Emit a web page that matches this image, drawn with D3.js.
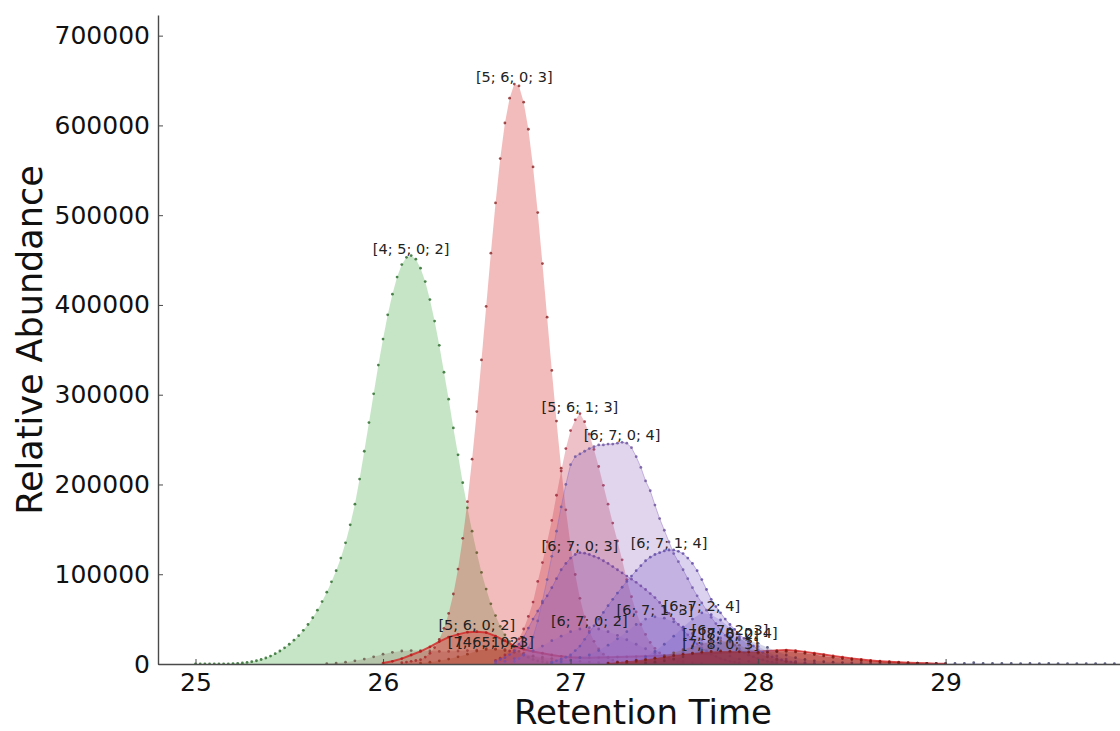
<!DOCTYPE html>
<html>
<head>
<meta charset="utf-8">
<script src="https://cdn.jsdelivr.net/npm/d3@7"></script>
<style>
  html, body { margin: 0; padding: 0; background: #fff; }
  svg { display: block; font-family: "DejaVu Sans", "Liberation Sans", sans-serif; }
</style>
</head>
<body>
<svg id="chart" width="1120" height="731"></svg>
<script>
// ---- Extracted ion chromatograms, one per glycan composition [Hex; HexNAc; Fuc; NeuAc] ----
const compositions = [
  "[4; 5; 0; 2]", "[4; 5; 0; 3]", "[5; 6; 0; 3]", "[7; 6; 1; 2]",
  "[5; 6; 0; 2]", "[5; 6; 1; 3]", "[6; 7; 0; 4]", "[6; 7; 0; 3]",
  "[6; 7; 1; 4]", "[6; 7; 0; 2]", "[6; 7; 1; 3]", "[6; 7; 2; 4]",
  "[7; 8; 0; 2]", "[6; 7; 2; 3]", "[7; 8; 0; 4]", "[7; 8; 0; 3]"
];

// first scan time (min) and scan interval (min) of each trace
const startTimes  = [25.0, 25.7, 26.1, 26.2, 26.0, 26.6, 26.7, 26.6, 26.9, 26.6, 26.9, 27.3, 27.3, 27.4, 27.4, 27.2];
const scanSteps   = [0.025, 0.05, 0.025, 0.05, 0.05, 0.025, 0.025, 0.025, 0.025, 0.05, 0.05, 0.05, 0.05, 0.05, 0.05, 0.05];

const abund_4502 = [0, 0, 0, 0, 0, 0, 0, 0, 500, 800, 1200, 1800, 2600, 3600, 5000, 6700, 8800, 11500, 14500, 18000,
  22000, 26500, 31500, 37500, 44000, 51500, 60000, 69500, 80000, 91500, 104000, 118000, 135000, 155000, 178000, 206000,
  237000, 269000, 301000, 333000, 362000, 389000, 412000, 431000, 445000, 453000, 455000, 451000, 441000, 426000,
  406000, 382000, 355000, 325000, 295000, 263000, 233000, 202000, 174000, 148000, 124000, 102000, 83500, 67000, 54000,
  42000, 32500, 25000, 19000, 14000, 10000, 7500, 5000, 3500, 2500, 1500, 1000];
const abund_4503 = [500, 1000, 2000, 3500, 5500, 8000, 11000, 13000, 14500, 15000, 15000, 14500, 14000, 14000, 14500,
  15000, 15500, 16000, 16500, 16300, 15000, 12000, 8500, 5500, 3000, 1500, 700];
const abund_5603 = [1500, 2200, 3000, 3900, 4800, 7700, 12000, 18300, 27300, 39700, 56300, 78000, 105800, 140000, 180800,
  228200, 281200, 338700, 398400, 457700, 513700, 563000, 602700, 630300, 646000, 644000, 625900, 595700, 553800,
  502900, 446100, 386400, 327100, 270600, 218200, 171700, 132500, 99700, 73200, 52600, 36900, 25300, 16900, 11000,
  7000, 4400, 2700, 1600, 1000];
const abund_7612 = [1000, 2000, 3500, 5500, 8000, 11000, 14500, 17000, 16500, 15000, 13000, 11000, 9000, 7500, 6000,
  4800, 3800, 3000, 2200, 1600, 1100, 700, 400];
const abund_5602 = [1000, 3000, 6000, 10000, 14000, 19000, 25000, 30000, 33000, 35500, 36000, 35000, 31000, 26000, 20000,
  16500, 14000, 12000, 10000, 8500, 7500, 7000, 7000, 7200, 7500, 7800, 8000, 8300, 8700, 9000, 9500, 10000, 10500,
  11000, 11500, 12000, 12500, 13000, 13300, 13600, 14000, 14500, 15000, 15500, 14800, 13500, 12000, 10500, 9000, 7500,
  6000, 5000, 4000, 3200, 2500, 2000, 1500, 1000, 700, 400, 200];
const abund_5613 = [4000, 6500, 10000, 14500, 20000, 28000, 39000, 53000, 69000, 92000, 113000, 136000, 160000, 188000,
  215000, 240000, 260000, 272000, 279000, 270000, 256000, 239000, 220000, 199000, 178000, 157000, 137000, 116000, 94000,
  75000, 58000, 44000, 33000, 24000, 17500, 12500, 9000, 6500, 4500, 3000, 2000];
const abund_6704 = [3000, 6000, 10000, 18000, 30000, 48000, 70000, 94000, 120000, 148000, 175000, 200000, 222000, 231000,
  234000, 237000, 240000, 242000, 244000, 244000, 245000, 245000, 246000, 247000, 246000, 241000, 231000, 219000,
  204000, 193000, 177000, 162000, 149000, 136000, 123000, 114000, 105000, 95000, 85000, 76000, 68000, 60000, 52000,
  45000, 38000, 32000, 26000, 21000, 17000, 13000, 10000, 8000, 6000, 4500, 3000, 2000, 1500];
const abund_6703 = [3000, 5000, 7000, 10500, 15000, 22000, 30000, 40000, 50000, 59000, 68000, 76000, 85000, 95000, 105000,
  112000, 118000, 122000, 124000, 123500, 122000, 120000, 118000, 115000, 112000, 108500, 105000, 101500, 98000, 94500,
  91000, 87000, 83000, 78500, 74000, 68500, 63000, 56500, 50000, 44000, 38000, 32500, 27000, 22500, 18000, 14500,
  11000, 8500, 6000, 4500, 3000, 2200, 1500];
const abund_6714 = [2000, 3500, 5500, 7500, 10000, 15000, 20000, 27500, 35000, 42500, 50000, 57500, 65000, 72000, 79000,
  85500, 92000, 98000, 104000, 109500, 115000, 119000, 122000, 124000, 126000, 127000, 127000, 125500, 123000, 118000,
  112000, 104000, 94000, 83000, 72000, 64000, 57000, 50000, 44000, 38500, 33000, 28500, 24000, 20000, 16000, 13000,
  10000, 8000, 6000, 4500, 3000, 2200, 1500];
const abund_6702 = [1000, 3000, 6000, 10000, 15000, 20000, 26000, 31000, 36000, 39000, 40500, 39000, 36000, 32000, 27000,
  22000, 17000, 12000, 8000, 5000, 3000, 1500, 700];
const abund_6713 = [1000, 2500, 4000, 7000, 10000, 15000, 21000, 28000, 36000, 44000, 50000, 52500, 51000, 47000, 41000,
  34000, 27000, 20000, 14000, 9000, 5500, 3000, 1500];
const abund_6724 = [2000, 4500, 8000, 14000, 22000, 31000, 41000, 50000, 57000, 55000, 49000, 40000, 30000, 21000, 13000,
  8000, 4500, 2500, 1000];
const abund_7802 = [1000, 2500, 4000, 6500, 9000, 12500, 16000, 19500, 22500, 24500, 26000, 24500, 21000, 16500, 12000,
  8000, 5000, 3000, 1700, 900, 400];
const abund_6723 = [1500, 3000, 5500, 9000, 13000, 17500, 22000, 26000, 29000, 30500, 29000, 25000, 19500, 14000, 9000,
  5500, 3000, 1500, 700];
const abund_7804 = [1000, 2000, 3500, 5500, 8000, 11500, 15500, 19500, 23000, 25500, 27000, 26000, 23000, 18500, 14000,
  10000, 7000, 5000, 3500, 2500, 2000, 1600, 1300, 1100, 1000, 900, 800, 900, 800, 700, 800, 700, 600, 800, 700, 1500,
  700, 600, 700, 600, 500, 600, 500, 600, 500, 400, 500, 400, 500, 400, 400, 300];
const abund_7803 = [1000, 2000, 3000, 4000, 5200, 6500, 8000, 9500, 11000, 12200, 13200, 14000, 14600, 14300, 13800, 13300,
  13000, 13200, 13800, 14200, 13500, 12000, 10500, 9000, 7500, 6000, 5000, 4000, 3200, 2600, 2000, 1600, 1200, 900,
  600, 400, 200];

const abundances = [
  abund_4502, abund_4503, abund_5603, abund_7612, abund_5602, abund_5613, abund_6704, abund_6703,
  abund_6714, abund_6702, abund_6713, abund_6724, abund_7802, abund_6723, abund_7804, abund_7803
];

const xTicks = [25, 26, 27, 28, 29];
const yTicks = [0, 100000, 200000, 300000, 400000, 500000, 600000, 700000];

// ---- Appearance of each trace (same order as compositions) ----
const traceStyles = [
  { fill: "#2ca02c", alpha: 0.27, dot: "#2f6f2f" },
  { fill: "#8c7b6b", alpha: 0.30, dot: "#6b5b4b" },
  { fill: "#d62728", alpha: 0.31, dot: "#8e2e2e" },
  { fill: "#a0522d", alpha: 0.30, dot: "#7a3a20" },
  { fill: "#d62728", alpha: 0.30, dot: "#b02020", line: "#d42a2a", lineWidth: 2 },
  { fill: "#c8324a", alpha: 0.30, dot: "#a02a3c" },
  { fill: "#9467bd", alpha: 0.28, dot: "#7058a0", line: "#8a68c0", lineWidth: 1 },
  { fill: "#8a4fb5", alpha: 0.28, dot: "#74489a", line: "#8355b8", lineWidth: 1 },
  { fill: "#7b5fc7", alpha: 0.28, dot: "#634ca6", line: "#7b60c4", lineWidth: 1 },
  { fill: "#9b5fc0", alpha: 0.25, dot: "#7d4da0" },
  { fill: "#8868cc", alpha: 0.25, dot: "#6a52a8" },
  { fill: "#7460cc", alpha: 0.25, dot: "#5e4ea8" },
  { fill: "#8c564b", alpha: 0.30, dot: "#6e4238" },
  { fill: "#8e6cc8", alpha: 0.25, dot: "#6e56a6" },
  { fill: "#5a5aa8", alpha: 0.25, dot: "#44466e" },
  { fill: "#9e1a10", alpha: 0.55, dot: "#7a1a10" }
];

// ---- Build traces ----
const traces = compositions.map((name, i) => ({
  name,
  style: traceStyles[i],
  points: abundances[i].map((v, k) => ({ t: startTimes[i] + k * scanSteps[i], v }))
}));

const svg = d3.select("#chart");
const plotLeft = 158, plotRight = 1120, plotTop = 15, plotBottom = 664;

const x = d3.scaleLinear().domain([24.8, 29.93]).range([plotLeft, plotRight]);
const y = d3.scaleLinear().domain([0, 723000]).range([plotBottom, plotTop]);

svg.append("defs").append("clipPath").attr("id", "plotClip")
  .append("rect").attr("x", plotLeft).attr("y", 0)
  .attr("width", plotRight - plotLeft).attr("height", plotBottom);

const plot = svg.append("g").attr("clip-path", "url(#plotClip)");

const area = d3.area()
  .x(d => x(d.t))
  .y0(y(0))
  .y1(d => y(d.v));
const line = d3.line()
  .x(d => x(d.t))
  .y(d => y(d.v));

traces.forEach(tr => {
  const g = plot.append("g");
  g.append("path")
    .datum(tr.points)
    .attr("d", area)
    .attr("fill", tr.style.fill)
    .attr("fill-opacity", tr.style.alpha)
    .attr("stroke", "none");
  if (tr.style.line) {
    g.append("path")
      .datum(tr.points)
      .attr("d", line)
      .attr("fill", "none")
      .attr("stroke", tr.style.line)
      .attr("stroke-width", tr.style.lineWidth)
      .attr("stroke-opacity", tr.style.lineWidth > 1 ? 0.85 : 0.45);
  }
  g.selectAll("circle")
    .data(tr.points)
    .join("circle")
    .attr("cx", d => x(d.t))
    .attr("cy", d => y(d.v))
    .attr("r", 1.4)
    .attr("fill", tr.style.dot)
    .attr("fill-opacity", 0.85);
});

// ---- Axes ----
const yAxis = d3.axisLeft(y)
  .tickValues(yTicks)
  .tickFormat(d3.format("d"))
  .tickSizeInner(-5)
  .tickSizeOuter(0)
  .tickPadding(8);
const xAxis = d3.axisBottom(x)
  .tickValues(xTicks)
  .tickFormat(d3.format("d"))
  .tickSizeInner(-5)
  .tickSizeOuter(0)
  .tickPadding(9);

const gy = svg.append("g").attr("transform", `translate(${plotLeft},0)`).call(yAxis);
const gx = svg.append("g").attr("transform", `translate(0,${plotBottom})`).call(xAxis);

[gx, gy].forEach(g => {
  g.attr("font-family", "'DejaVu Sans', sans-serif").attr("font-size", 25);
  g.select(".domain").attr("stroke", "#4a4a4a").attr("stroke-width", 1.4);
  g.selectAll(".tick line").attr("stroke", "#4a4a4a").attr("stroke-width", 1);
  g.selectAll(".tick text").attr("fill", "#111");
});

// ---- Peak labels at each trace's apex ----
const labels = svg.append("g")
  .attr("font-family", "'DejaVu Sans', sans-serif")
  .attr("font-size", 14.5)
  .attr("fill", "#222")
  .attr("text-anchor", "middle");

traces.forEach(tr => {
  const apex = tr.points.reduce((a, b) => (b.v > a.v ? b : a));
  labels.append("text")
    .attr("x", x(apex.t))
    .attr("y", y(apex.v) - 2)
    .text(tr.name);
});

// ---- Axis titles ----
svg.append("text")
  .attr("x", 643).attr("y", 724)
  .attr("text-anchor", "middle")
  .attr("font-size", 34)
  .attr("fill", "#111")
  .text("Retention Time");

svg.append("text")
  .attr("transform", "translate(42,340) rotate(-90)")
  .attr("text-anchor", "middle")
  .attr("font-size", 35)
  .attr("fill", "#111")
  .text("Relative Abundance");
</script>
</body>
</html>
